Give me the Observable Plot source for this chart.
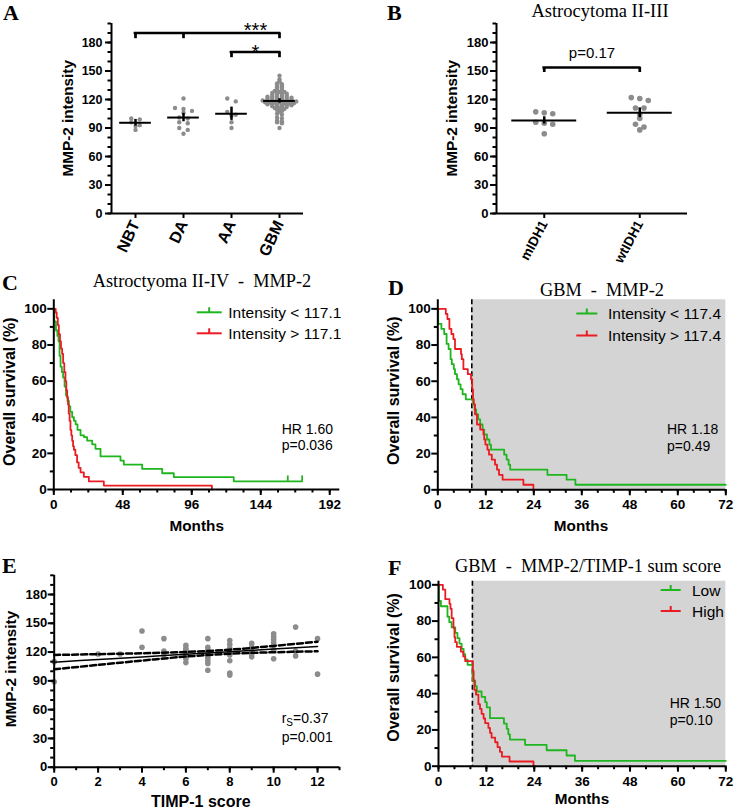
<!DOCTYPE html>
<html>
<head>
<meta charset="utf-8">
<script src="https://cdn.jsdelivr.net/npm/d3@7"></script>
<script src="https://cdn.jsdelivr.net/npm/@observablehq/plot@0.6"></script>
<style>
  html, body { margin: 0; padding: 0; background: #fff; }
  #fig { position: relative; width: 736px; height: 810px; overflow: hidden; background: #fff; }
  #fig svg { position: absolute; }
</style>
</head>
<body>
<div id="fig"></div>
<script>
// ---------------- DATA ----------------
// Panel A
const catsA = ["NBT", "DA", "AA", "GBM"];
const nbtA = [100, 99, 96, 93, 92, 88];
const daA = [121, 111, 110, 108, 106, 101, 100, 96, 95, 90, 88, 84];
const aaA = [121, 118, 107, 104, 103, 96, 90];
const gbmA = [145, 141, 139, 137, 136, 135, 134, 133, 132, 131, 130, 129, 128, 128, 127, 127, 126, 126, 125, 125,
  124, 124, 123, 123, 123, 122, 122, 122, 121, 121, 121, 120, 120, 120, 119, 119, 119, 119, 118, 118,
  118, 118, 117, 117, 117, 117, 116, 116, 116, 115, 115, 115, 114, 114, 114, 113, 113, 112, 112, 111,
  111, 110, 109, 108, 107, 105, 104, 101, 100, 98, 97, 96, 95, 90];
const meansA = [95.5, 101, 105, 118.5];
const semA = [3.5, 4.4, 7, 2.3];
const sigA = [
  {from: 0, to: 3, drops: [0, 1, 3], top: 190, bottom: 184, label: "***"},
  {from: 2, to: 3, drops: [2, 3], top: 170, bottom: 164, label: "*"}
];
const yTicksA = [0, 30, 60, 90, 120, 150, 180];

// Panel B
const catsB = ["mIDH1", "wtIDH1"];
const midhB = [107, 106, 105, 96, 95, 94, 84];
const wtidhB = [122, 121, 119, 111, 111, 104, 100, 94, 91, 88];
const meansB = [98, 106];
const semB = [3.8, 5.2];
const sigB = {from: 0, to: 1, top: 153.7, bottom: 148.4, label: "p=0.17"};

// Panel C  (time in months, survival %)
const cLow = [[0,100],[0.3,93],[1.5,88],[2.5,85],[3.3,82],[4,74],[4.7,68],[5.6,65],[6.5,62],[7.5,57],[8.5,52],
  [9.5,49],[10.5,46],[11.5,43],[12.8,40],[14,38],[15.2,36],[16.5,33],[18.6,30],[21,29],[23.2,27],[26.7,25],
  [29,22.5],[32.5,18.3],[46.4,16],[48.7,13.8],[61.5,11.4],[75.4,9],[83.5,6.8],[125.2,4.5],[172.8,4.5]];
const cHigh = [[0,100],[1.3,98],[2,95],[2.8,91],[3.5,86],[4.3,82],[5,78],[5.8,75],[6.5,70],[7.3,65],[8.1,60],
  [8.7,55],[9.3,51],[9.9,47],[10.4,42],[11,38],[11.6,33],[12.2,30],[12.8,27],[13.4,24],[14,22],[15,19],
  [16.2,15],[17.3,12],[18.6,9.5],[20.9,7],[24.4,4.5],[34.8,2.2],[110,2.2],[110,0]];
const cCensor = [[162.8,4.5],[172.8,4.5]];
const cTicksX = [0, 48, 96, 144, 192];
const kmTicksY = [0, 20, 40, 60, 80, 100];

// Panel D
const dLow = [[0,100],[0.1,91.7],[0.9,88.9],[1.6,86.1],[2.2,80.6],[2.7,77.8],[3.2,72.2],[3.5,69.4],[4,66.7],
  [4.3,63.9],[4.8,61.1],[5.2,58.3],[5.7,55.6],[6.2,52.8],[7,50],[8.8,47.2],[9.2,44.4],[9.6,41.7],[10.1,38.9],
  [10.6,36.1],[11.2,33.3],[11.6,30.6],[12.3,27.8],[12.9,25],[13.3,22.2],[16.6,19.4],[17.2,16.7],[17.7,13.9],
  [18.1,11.1],[27.4,8.3],[32.2,5.6],[34.4,2.8],[72,2.8]];
const dHigh = [[0,100],[2,97.2],[2.4,94.4],[2.9,88.9],[3.4,86.1],[3.9,83.3],[4.3,77.8],[5.8,75],[6,72.2],
  [6.4,66.7],[7.5,63.9],[8.3,61.1],[8.6,55.6],[8.8,50],[9,47.2],[9.3,41.7],[9.8,36.1],[10.6,33.3],[11.4,30.6],
  [11.6,27.8],[11.9,25],[12.4,22.2],[12.8,19.4],[13.5,16.7],[14.3,13.9],[14.8,11.1],[15.3,8.3],[16.2,5.6],
  [21.4,2.8],[23.9,2.8],[23.9,0]];
const dMedian = 8.5;
const gbmTicksX = [0, 12, 24, 36, 48, 60, 72];

// Panel E
const eScores = [0,0, 2, 3, 4,4, 5,5,5, 6,6,6,6,6,6,6,6, 7,7,7,7,7,7,7,7,7,7, 8,8,8,8,8,8,8,8,8, 9,9,9,9,9,
  10,10,10,10,10,10,10, 11,11,11, 12,12];
const eMMP2 = [110,89, 118, 118, 142,125, 134,121,117, 127,124,122,120,117,115,113,109,
  134,125,122,120,118,116,114,111,108,101, 132,128,124,121,119,117,111,98,96, 129,125,121,118,115,
  139,136,133,130,127,122,113, 146,121,116, 134,97];
const eFitX = [0, 2, 4, 6, 8, 10, 12];
const eFit = [109.5, 112.2, 114.9, 117.7, 120.4, 123.1, 125.8];
const eUpper = [117.0, 117.8, 118.8, 120.1, 122.5, 126.4, 130.8];
const eLower = [102.0, 106.6, 111.1, 115.3, 118.3, 119.8, 120.8];
const eTicksX = [0, 2, 4, 6, 8, 10, 12];

// Panel F
const fLow = [[0,100],[0.1,91.2],[0.6,88.2],[2.25,82.4],[2.7,79.4],[3.3,76.5],[4.2,73.5],[4.75,70.6],[5.25,67.6],
  [5.8,64.7],[6.3,61.8],[6.7,58.8],[7.3,55.9],[8.5,50],[8.6,47.1],[9.2,44.1],[9.6,41.2],[10.8,38.2],[11.7,35.3],
  [12.1,32.4],[12.9,26.5],[16.4,23.5],[17.1,20.6],[17.5,17.6],[17.9,14.7],[21.7,11.8],[27.1,8.8],[32.1,5.9],
  [34.2,2.9],[72,2.9]];
const fHigh = [[0,100],[1.1,97.4],[1.7,92.1],[2.75,89.5],[3,86.8],[3.3,81.6],[3.75,76.3],[4,71.1],[4.2,68.4],
  [4.6,65.8],[5.6,63.2],[6.2,60.5],[6.7,57.9],[8.6,52.6],[8.8,47.4],[9,42.1],[9.4,39.5],[10,34.2],[10.4,31.6],
  [10.8,28.9],[11.3,26.3],[11.7,23.7],[12.5,21.1],[12.9,18.4],[13.3,15.8],[14.2,13.2],[14.8,10.5],[15.4,7.9],
  [15.9,5.3],[17.8,2.6],[23.8,2.6],[23.8,0]];
const fMedian = 8.5;

// ---------------- STYLE ----------------
const SANS = "'Liberation Sans', Arial, Helvetica, sans-serif";
const SERIF = "'Liberation Serif', 'Times New Roman', Times, serif";
const GREEN = "#1fb51f", RED = "#ea1b22", DOT = "#8c8c8c", SHADE = "#d4d4d4";
const plotStyle = {fontFamily: SANS, fontWeight: "bold", color: "#000", background: "none", overflow: "visible"};
const fig = document.getElementById("fig");

function place(svg, left, top) {
  svg.style.left = left + "px";
  svg.style.top = top + "px";
  fig.appendChild(svg);
}
function yAxes(major, minor, fs, size, pad) {
  return [
    Plot.axisY({ticks: minor, tickSize: 3.5, tickFormat: () => "", strokeWidth: 2, label: null}),
    Plot.axisY({ticks: major, tickSize: size, tickPadding: pad, fontSize: fs, strokeWidth: 2, label: null})
  ];
}
function xAxes(major, minor, fs, size, pad, extra = {}) {
  const out = [];
  if (minor) out.push(Plot.axisX({ticks: minor, tickSize: 3.5, tickFormat: () => "", strokeWidth: 2, label: null}));
  out.push(Plot.axisX({ticks: major, tickSize: size, tickPadding: pad, fontSize: fs, strokeWidth: 2, label: null, ...extra}));
  return out;
}
// symmetric binned scatter (GraphPad style): returns pixel offsets
function binOffsets(vals, binH, spacing) {
  const order = vals.map((v, i) => i).sort((a, b) => vals[b] - vals[a]);
  const off = new Array(vals.length);
  let bin = [], start = null;
  const flush = () => { bin.forEach((idx, j) => off[idx] = (j - (bin.length - 1) / 2) * spacing); bin = []; };
  for (const i of order) {
    if (start === null || vals[i] <= start - binH) { flush(); start = vals[i]; }
    bin.push(i);
  }
  flush();
  return off;
}
const toKM = (arr) => arr.map(([t, s]) => ({t, s}));

// ---------------- PANEL A ----------------
{
  const w = 368, h = 270, ml = 111, mr = 65, mt = 23, mb = 57;
  const kx = (w - ml - mr) / catsA.length;
  const groups = [nbtA, daA, aaA, gbmA];
  const dots = groups.flatMap((vals, i) => {
    const off = i === 3 ? binOffsets(vals, 2, 4.8) : binOffsets(vals, 3.5, 8.5);
    return vals.map((v, j) => ({x: i + off[j] / kx, v}));
  });
  const stats = catsA.map((c, i) => ({i, m: meansA[i], e: semA[i]}));
  const drops = sigA.flatMap(s => s.drops.map(x => ({x, y1: s.bottom, y2: s.top})));
  const svg = Plot.plot({
    width: w, height: h, marginLeft: ml, marginRight: mr, marginTop: mt, marginBottom: mb,
    x: {domain: [-0.5, catsA.length - 0.5], label: null},
    y: {domain: [0, 200], label: null},
    style: plotStyle,
    marks: [
      Plot.dot(dots, {x: "x", y: "v", r: 2.2, fill: DOT, stroke: "none"}),
      Plot.ruleY(stats, {x1: d => d.i - 0.33, x2: d => d.i + 0.33, y: "m", strokeWidth: 2}),
      Plot.ruleX(stats, {x: "i", y1: d => d.m - d.e, y2: d => d.m + d.e, strokeWidth: 2.5}),
      Plot.ruleY(sigA, {x1: "from", x2: "to", y: "top", strokeWidth: 2.7, strokeLinecap: "square"}),
      Plot.ruleX(drops, {x: "x", y1: "y1", y2: "y2", strokeWidth: 2.7}),
      Plot.text([sigA[0]], {x: 2.5, y: "top", text: "label", lineAnchor: "bottom", dy: 4, fontSize: 20, fontWeight: "normal", letterSpacing: 1}),
      Plot.text([sigA[1]], {x: 2.5, y: "top", text: "label", lineAnchor: "bottom", dy: 7, fontSize: 20, fontWeight: "normal"}),
      Plot.ruleX([-0.5], {y1: 0, y2: 200, strokeWidth: 2}),
      Plot.ruleY([0], {strokeWidth: 2}),
      ...yAxes(yTicksA, d3.range(0, 201, 10), 12.5, 6, 3),
      ...xAxes(catsA.map((c, i) => i), null, 16, 5, 3, {tickFormat: i => catsA[i], tickRotate: -65})
    ]
  });
  place(svg, 0, 0);
}

// ---------------- PANEL B ----------------
{
  const w = 368, h = 270, ml = 128, mr = 49, mt = 23, mb = 57;
  const kx = (w - ml - mr) / catsB.length;
  const groups = [midhB, wtidhB];
  const dots = groups.flatMap((vals, i) => {
    const off = binOffsets(vals, 4, 8.5);
    return vals.map((v, j) => ({x: i + off[j] / kx, v}));
  });
  const stats = catsB.map((c, i) => ({i, m: meansB[i], e: semB[i]}));
  const svg = Plot.plot({
    width: w, height: h, marginLeft: ml, marginRight: mr, marginTop: mt, marginBottom: mb,
    x: {domain: [-0.5, catsB.length - 0.5], label: null},
    y: {domain: [0, 200], label: null},
    style: plotStyle,
    marks: [
      Plot.dot(dots, {x: "x", y: "v", r: 2.8, fill: DOT, stroke: "none"}),
      Plot.ruleY(stats, {x1: d => d.i - 0.34, x2: d => d.i + 0.34, y: "m", strokeWidth: 2}),
      Plot.ruleX(stats, {x: "i", y1: d => d.m - d.e, y2: d => d.m + d.e, strokeWidth: 2.5}),
      Plot.ruleY([sigB], {x1: "from", x2: "to", y: "top", strokeWidth: 2.7, strokeLinecap: "square"}),
      Plot.ruleX([sigB.from, sigB.to], {x: d => d, y1: sigB.bottom, y2: sigB.top, strokeWidth: 2.7}),
      Plot.text([sigB], {x: d => (d.from + d.to) / 2, y: "top", text: "label", lineAnchor: "bottom", dy: -9.5, fontSize: 15, fontWeight: "normal"}),
      Plot.ruleX([-0.5], {y1: 0, y2: 200, strokeWidth: 2}),
      Plot.ruleY([0], {strokeWidth: 2}),
      ...yAxes(yTicksA, d3.range(0, 201, 10), 13, 6, 2),
      ...xAxes(catsB.map((c, i) => i), null, 13.5, 5, 3, {tickFormat: i => catsB[i], tickRotate: -62})
    ]
  });
  place(svg, 368, 0);
}

// ---------------- PANEL C ----------------
{
  const svg = Plot.plot({
    width: 368, height: 270, marginLeft: 53.3, marginRight: 28.7, marginTop: 29.3, marginBottom: 51,
    x: {domain: [0, 199], label: null},
    y: {domain: [0, 105], label: null},
    style: plotStyle,
    marks: [
      Plot.line(toKM(cLow), {x: "t", y: "s", curve: "step-after", stroke: GREEN, strokeWidth: 1.8}),
      Plot.ruleX(toKM(cCensor), {x: "t", y1: "s", y2: d => d.s + 3, stroke: GREEN, strokeWidth: 1.8}),
      Plot.line(toKM(cHigh), {x: "t", y: "s", curve: "step-after", stroke: RED, strokeWidth: 1.8}),
      Plot.ruleX([0], {strokeWidth: 2}),
      Plot.ruleY([0], {strokeWidth: 2}),
      ...yAxes(kmTicksY, d3.range(10, 100, 20), 13.5, 6, 1),
      ...xAxes(cTicksX, d3.range(0, 193, 12), 13.5, 6, 4)
    ]
  });
  place(svg, 0, 270);
}

// ---------------- PANEL D ----------------
{
  const svg = Plot.plot({
    width: 368, height: 270, marginLeft: 69.3, marginRight: 10.7, marginTop: 29.3, marginBottom: 50.7,
    x: {domain: [0, 72], label: null},
    y: {domain: [0, 105], label: null},
    style: plotStyle,
    marks: [
      Plot.rect([{x1: dMedian, x2: 72, y1: 0, y2: 105}], {x1: "x1", x2: "x2", y1: "y1", y2: "y2", fill: SHADE}),
      Plot.ruleX([dMedian], {strokeDasharray: "5,3", strokeWidth: 1.6}),
      Plot.line(toKM(dLow), {x: "t", y: "s", curve: "step-after", stroke: GREEN, strokeWidth: 1.8}),
      Plot.line(toKM(dHigh), {x: "t", y: "s", curve: "step-after", stroke: RED, strokeWidth: 1.8}),
      Plot.ruleX([0], {strokeWidth: 2}),
      Plot.ruleY([0], {strokeWidth: 2}),
      ...yAxes(kmTicksY, d3.range(10, 100, 20), 13.5, 6, 1),
      ...xAxes(gbmTicksX, d3.range(0, 73, 4), 13.5, 6, 4)
    ]
  });
  place(svg, 368, 270);
}

// ---------------- PANEL E ----------------
{
  const pts = eScores.map((s, i) => ({s, v: eMMP2[i]}));
  const fit = eFitX.map((x, i) => ({x, fit: eFit[i], up: eUpper[i], lo: eLower[i]}));
  const svg = Plot.plot({
    width: 368, height: 270, marginLeft: 53.7, marginRight: 29, marginTop: 34.8, marginBottom: 43.3,
    x: {domain: [0, 13], label: null},
    y: {domain: [0, 200], label: null},
    style: plotStyle,
    marks: [
      Plot.dot(pts, {x: "s", y: "v", r: 2.8, fill: DOT, stroke: "none"}),
      Plot.line(fit, {x: "x", y: "fit", stroke: "#000", strokeWidth: 1.5, curve: "catmull-rom"}),
      Plot.line(fit, {x: "x", y: "up", stroke: "#000", strokeWidth: 2.5, strokeDasharray: "6,3", curve: "catmull-rom"}),
      Plot.line(fit, {x: "x", y: "lo", stroke: "#000", strokeWidth: 2.5, strokeDasharray: "6,3", curve: "catmull-rom"}),
      Plot.ruleX([0], {strokeWidth: 2}),
      Plot.ruleY([0], {strokeWidth: 2}),
      ...yAxes(yTicksA, d3.range(0, 201, 10), 13, 6, 1),
      ...xAxes(eTicksX, d3.range(0, 14, 1), 13, 6, 4)
    ]
  });
  place(svg, 0, 540);
}

// ---------------- PANEL F ----------------
{
  const svg = Plot.plot({
    width: 368, height: 270, marginLeft: 70, marginRight: 10.7, marginTop: 40.7, marginBottom: 44.3,
    x: {domain: [0, 72], label: null},
    y: {domain: [0, 102], label: null},
    style: plotStyle,
    marks: [
      Plot.rect([{x1: fMedian, x2: 72, y1: 0, y2: 102}], {x1: "x1", x2: "x2", y1: "y1", y2: "y2", fill: SHADE}),
      Plot.ruleX([fMedian], {strokeDasharray: "5,3", strokeWidth: 1.6}),
      Plot.line(toKM(fLow), {x: "t", y: "s", curve: "step-after", stroke: GREEN, strokeWidth: 1.8}),
      Plot.line(toKM(fHigh), {x: "t", y: "s", curve: "step-after", stroke: RED, strokeWidth: 1.8}),
      Plot.ruleX([0], {strokeWidth: 2}),
      Plot.ruleY([0], {strokeWidth: 2}),
      ...yAxes(kmTicksY, d3.range(10, 100, 20), 13.5, 6, 1),
      ...xAxes(gbmTicksX, d3.range(0, 73, 4), 13.5, 6, 4)
    ]
  });
  place(svg, 368, 540);
}

// ---------------- OVERLAY: letters, titles, axis titles, legends, stats ----------------
{
  const NS = "http://www.w3.org/2000/svg";
  const ov = document.createElementNS(NS, "svg");
  ov.setAttribute("width", 736); ov.setAttribute("height", 810);
  ov.style.left = "0px"; ov.style.top = "0px"; ov.style.pointerEvents = "none";
  fig.appendChild(ov);
  function txt(s, x, y, o = {}) {
    const t = document.createElementNS(NS, "text");
    t.setAttribute("x", 0); t.setAttribute("y", 0);
    t.setAttribute("transform", `translate(${x},${y})` + (o.rot ? ` rotate(${o.rot})` : ""));
    t.setAttribute("font-family", o.serif ? SERIF : SANS);
    t.setAttribute("font-size", o.size || 14);
    t.setAttribute("font-weight", o.bold ? "bold" : "normal");
    t.setAttribute("text-anchor", o.anchor || "start");
    if (o.central) t.setAttribute("dominant-baseline", "central");
    t.setAttribute("fill", "#000");
    t.style.whiteSpace = "pre";
    if (o.html) t.innerHTML = s; else t.textContent = s;
    ov.appendChild(t);
    return t;
  }
  function swatch(x1, x2, y, color) {
    const l = document.createElementNS(NS, "line");
    l.setAttribute("x1", x1); l.setAttribute("x2", x2); l.setAttribute("y1", y); l.setAttribute("y2", y);
    l.setAttribute("stroke", color); l.setAttribute("stroke-width", 2);
    ov.appendChild(l);
    const m = document.createElementNS(NS, "line");
    const xm = (x1 + x2) / 2;
    m.setAttribute("x1", xm); m.setAttribute("x2", xm); m.setAttribute("y1", y); m.setAttribute("y2", y - 5);
    m.setAttribute("stroke", color); m.setAttribute("stroke-width", 2);
    ov.appendChild(m);
  }
  // panel letters
  txt("A", 3, 20, {serif: true, bold: true, size: 22});
  txt("B", 387, 20, {serif: true, bold: true, size: 22});
  txt("C", 2, 290, {serif: true, bold: true, size: 22});
  txt("D", 388, 295, {serif: true, bold: true, size: 22});
  txt("E", 2, 573, {serif: true, bold: true, size: 22});
  txt("F", 388, 575, {serif: true, bold: true, size: 22});
  // titles
  txt("Astrocytoma II-III", 600, 17, {serif: true, size: 18.5, anchor: "middle"});
  txt("Astroctyoma II-IV  -  MMP-2", 202, 287, {serif: true, size: 18.3, anchor: "middle"});
  txt("GBM  -  MMP-2", 602, 296, {serif: true, size: 18.3, anchor: "middle"});
  txt("GBM  -  MMP-2/TIMP-1 sum score", 588, 572, {serif: true, size: 18.3, anchor: "middle"});
  // axis titles
  txt("MMP-2 intensity", 67.5, 118.3, {bold: true, size: 15.3, anchor: "middle", central: true, rot: -90});
  txt("MMP-2 intensity", 451.5, 118.3, {bold: true, size: 15.3, anchor: "middle", central: true, rot: -90});
  txt("Overall survival (%)", 9.7, 391.7, {bold: true, size: 16, anchor: "middle", central: true, rot: -90});
  txt("Overall survival (%)", 393.5, 390.8, {bold: true, size: 16, anchor: "middle", central: true, rot: -90});
  txt("MMP-2 intensity", 10, 669, {bold: true, size: 15.3, anchor: "middle", central: true, rot: -90});
  txt("Overall survival (%)", 393.5, 667.5, {bold: true, size: 16, anchor: "middle", central: true, rot: -90});
  txt("Months", 196.7, 525.5, {bold: true, size: 15.3, anchor: "middle", central: true});
  txt("Months", 581, 525, {bold: true, size: 15.3, anchor: "middle", central: true});
  txt("TIMP-1 score", 200.8, 801.7, {bold: true, size: 16, anchor: "middle", central: true});
  txt("Months", 582, 798, {bold: true, size: 15.3, anchor: "middle", central: true});
  // legends
  swatch(196.7, 221.7, 312.3, GREEN); txt("Intensity < 117.1", 228.3, 312.3, {size: 15.5, central: true});
  swatch(196.7, 221.7, 333.3, RED); txt("Intensity > 117.1", 228.3, 333.3, {size: 15.5, central: true});
  swatch(576.3, 597.3, 313.5, GREEN); txt("Intensity < 117.4", 608, 313.5, {size: 15.5, central: true});
  swatch(576.3, 597.3, 335.5, RED); txt("Intensity > 117.4", 608, 335.5, {size: 15.5, central: true});
  swatch(660.7, 680.7, 590, GREEN); txt("Low", 692, 590, {size: 15.5, central: true});
  swatch(660.7, 680.7, 611, RED); txt("High", 692, 611, {size: 15.5, central: true});
  // statistics
  txt("HR 1.60", 281.7, 433.5, {size: 14});
  txt("p=0.036", 281.7, 450, {size: 14});
  txt("HR 1.18", 667, 434, {size: 14});
  txt("p=0.49", 667, 450.5, {size: 14});
  txt('r<tspan font-size="10" dy="3">S</tspan><tspan dy="-3">=0.37</tspan>', 281.7, 723, {size: 14, html: true});
  txt("p=0.001", 281.7, 741.7, {size: 14});
  txt("HR 1.50", 669.7, 708, {size: 14});
  txt("p=0.10", 669.7, 725, {size: 14});
}
</script>
</body>
</html>
